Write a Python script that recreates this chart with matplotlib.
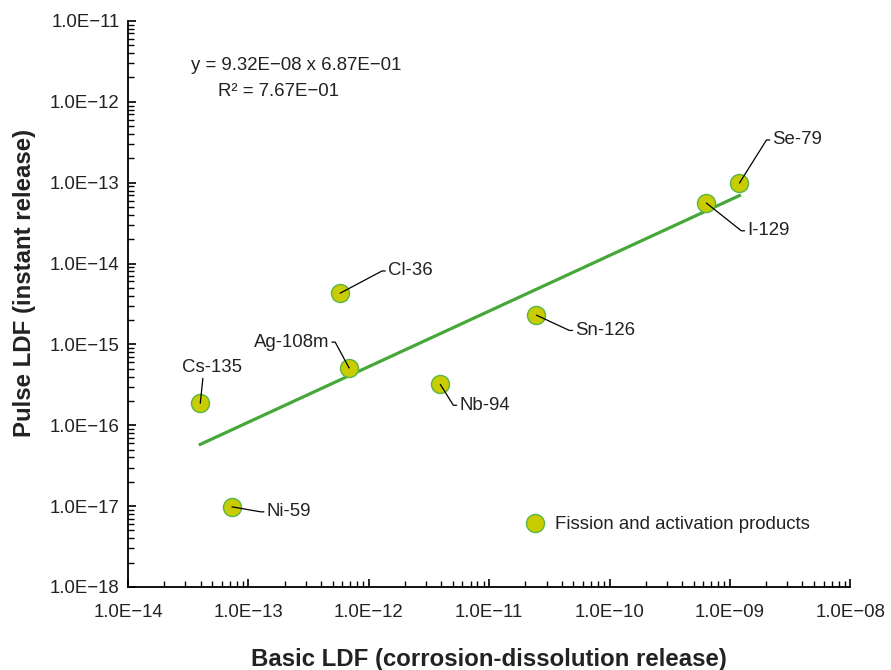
import numpy as np
import matplotlib
matplotlib.use("Agg")
import matplotlib.pyplot as plt
from matplotlib.ticker import FixedLocator, LogLocator, FuncFormatter, NullFormatter

plt.rcParams['font.family'] = ['Liberation Sans', 'DejaVu Sans']

# Data
nuclides = ["Cs-135", "Ni-59", "Ag-108m", "Cl-36", "Nb-94", "Sn-126", "I-129", "Se-79"]
basic_ldf = [3.98e-14, 7.3e-14, 6.87e-13, 5.78e-13, 3.93e-12, 2.47e-11, 6.38e-10, 1.2e-9]
pulse_ldf = [1.87e-16, 9.8e-18, 5.1e-16, 4.3e-15, 3.2e-16, 2.3e-15, 5.6e-14, 9.9e-14]

# Power-law trend line shown on the chart
fit_a = 9.32e-08
fit_b = 6.87e-01
fit_r2 = 7.67e-01

# axis decades
x_decades = [-14, -13, -12, -11, -10, -9, -8]
y_decades = [-18, -17, -16, -15, -14, -13, -12, -11]

# label placement: (dx, dy) offset in points, ha, relpos, armA angle
label_style = {
    "Cs-135": ((8.6, 20), "center", (0.35, 0.0), None),
    "Ni-59": ((25, -3.6), "left", (0.0, 0.5), 180),
    "Ag-108m": ((-14.4, 18.7), "right", (1.0, 0.5), 0),
    "Cl-36": ((34.5, 16), "left", (0.0, 0.5), 180),
    "Nb-94": ((13.7, -15), "left", (0.0, 0.5), 180),
    "Sn-126": ((28, -11), "left", (0.0, 0.5), 180),
    "I-129": ((29.5, -20), "left", (0.0, 0.5), 180),
    "Se-79": ((23.8, 31), "left", (0.0, 0.5), 180),
}

FACE = '#c9cc00'
EDGE = '#5cb546'
LINE = '#47a83a'
FS = 13.4


def sci_fmt(v, pos):
    e = int(np.round(np.log10(v)))
    sign = '\u2212' if e < 0 else ''
    return f"1.0E{sign}{abs(e):02d}"


fig = plt.figure(figsize=(8.91, 6.70), dpi=100)
ax = fig.add_axes([0.1437, 0.1239, 0.8106, 0.8448])

x = np.array(basic_ldf)
y = np.array(pulse_ldf)

xf = np.logspace(np.log10(x.min()), np.log10(x.max()), 50)
ax.plot(xf, fit_a * xf ** fit_b, color=LINE, lw=2.3, zorder=2)

ax.plot(x, y, 'o', ms=13, mfc=FACE, mec=EDGE, mew=1.0, zorder=3,
        label="Fission and activation products")

for name, xi, yi in zip(nuclides, x, y):
    (dx, dy), ha, relpos, angA = label_style[name]
    if angA is None:
        conn = "arc3,rad=0"
        va = 'bottom'
    else:
        conn = f"arc,angleA={angA},armA=6,angleB=0,armB=0,rad=0"
        va = 'center'
    ax.annotate(name, xy=(xi, yi), xytext=(dx, dy), textcoords='offset points',
                ha=ha, va=va, fontsize=FS, color='#222222', zorder=5,
                arrowprops=dict(arrowstyle='-', color='black', lw=0.9,
                                shrinkA=0, shrinkB=0, relpos=relpos,
                                connectionstyle=conn))

ax.set_xscale('log')
ax.set_yscale('log')
ax.set_xlim(10.0 ** x_decades[0], 10.0 ** x_decades[-1])
ax.set_ylim(10.0 ** y_decades[0], 10.0 ** y_decades[-1])

for axis, dec in ((ax.xaxis, x_decades), (ax.yaxis, y_decades)):
    axis.set_major_locator(FixedLocator(10.0 ** np.array(dec)))
    axis.set_minor_locator(LogLocator(base=10, subs=np.arange(2, 10), numticks=20))
    axis.set_major_formatter(FuncFormatter(sci_fmt))
    axis.set_minor_formatter(NullFormatter())

ax.tick_params(which='major', direction='in', length=6, width=1.2, labelsize=FS,
               colors='black', labelcolor='#222222', pad=12)
ax.tick_params(which='minor', direction='in', length=4, width=1.0)
ax.tick_params(axis='y', which='major', pad=6)

for s in ('top', 'right'):
    ax.spines[s].set_visible(False)
for s in ('left', 'bottom'):
    ax.spines[s].set_linewidth(1.3)

ax.set_xlabel("Basic LDF (corrosion-dissolution release)", fontsize=17.3,
              fontweight='bold', color='#222222')
ax.set_ylabel("Pulse LDF (instant release)", fontsize=17.3,
              fontweight='bold', color='#222222')
ax.xaxis.set_label_coords(0.5, -0.108)
ax.yaxis.set_label_coords(-0.128, 0.537)

ax.text(0.087, 0.922, f"y = {fit_a:.2E} x {fit_b:.2E}".replace('-', '\u2212'),
        transform=ax.transAxes, fontsize=FS, va='center', color='#222222')
ax.text(0.125, 0.875, f"R\u00b2 = {fit_r2:.2E}".replace('-', '\u2212'),
        transform=ax.transAxes, fontsize=FS, va='center', color='#222222')

ax.legend(loc='center left', bbox_to_anchor=(0.5145, 0.11), frameon=False,
          fontsize=FS, handletextpad=0.08, labelcolor='#222222')

fig.savefig("out.png", dpi=100)
